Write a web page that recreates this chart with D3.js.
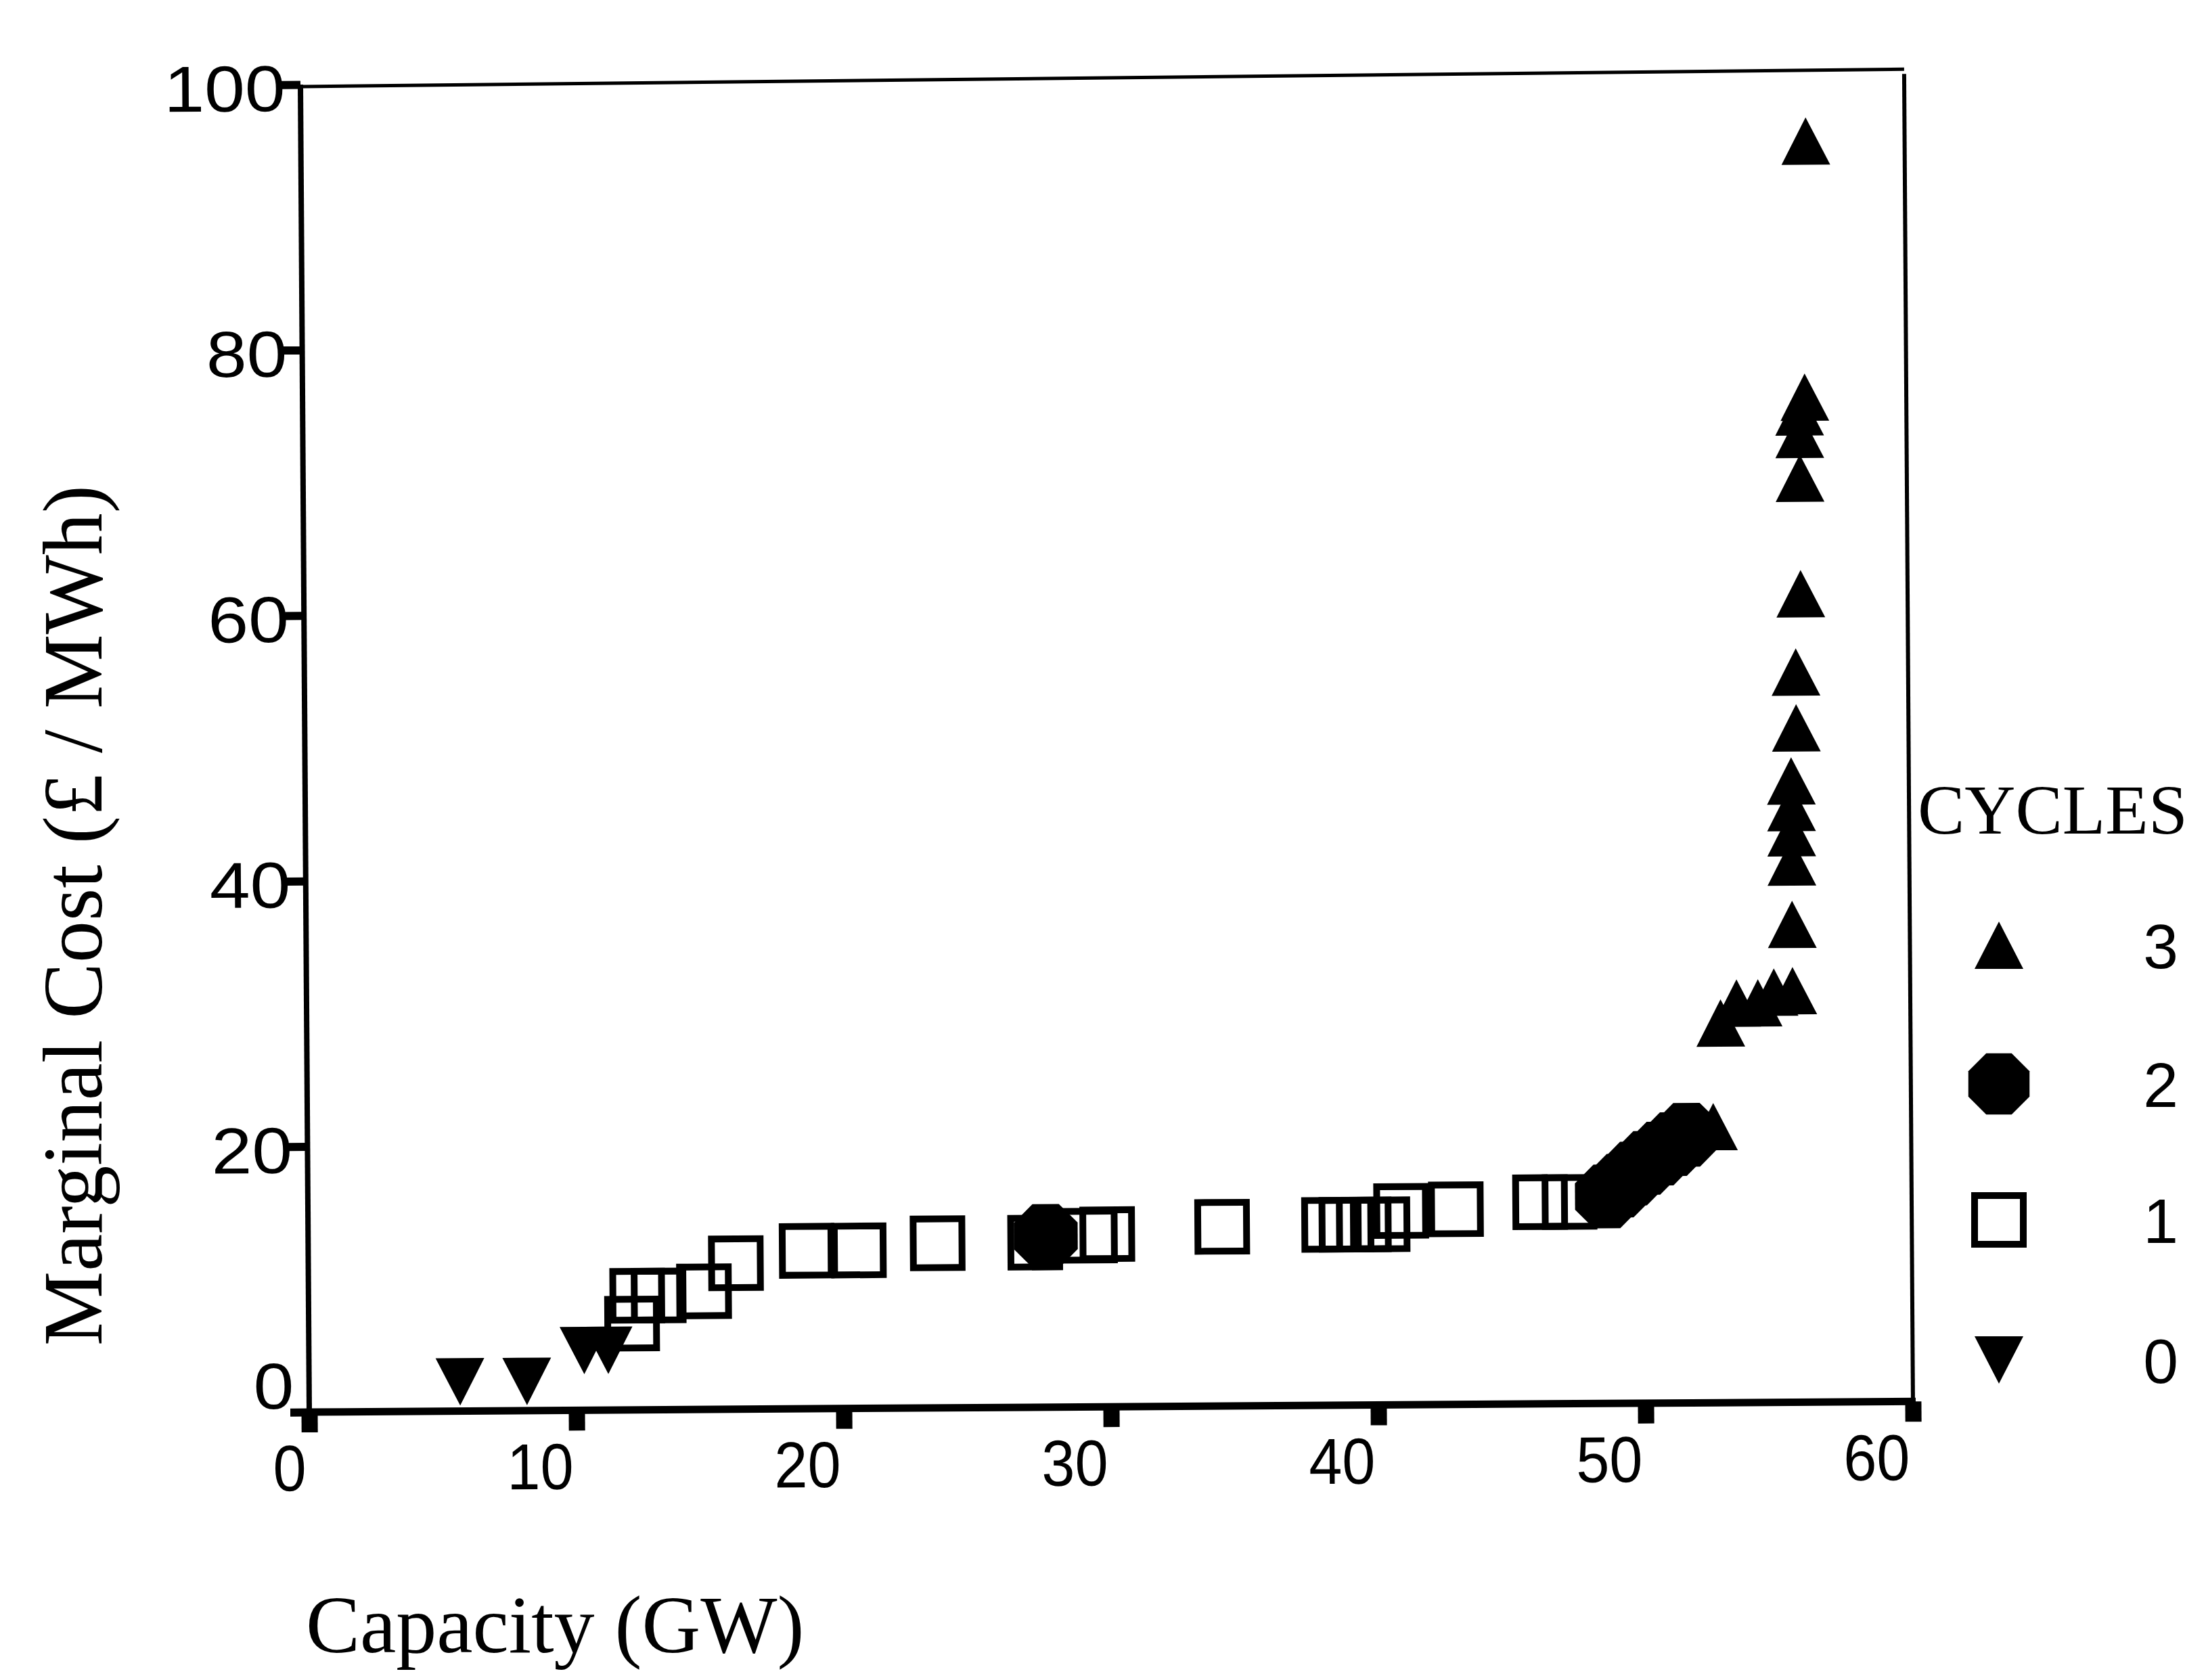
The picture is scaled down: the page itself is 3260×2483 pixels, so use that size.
<!DOCTYPE html>
<html lang="en">
<head>
<meta charset="UTF-8">
<title>Marginal Cost vs Capacity</title>
<script src="https://d3js.org/d3.v7.min.js"></script>
<style>
  body { margin: 0; background: #fff; }
  svg { display: block; }
  .sans { font-family: "Liberation Sans", Arial, sans-serif; }
  .serif { font-family: "Liberation Serif", "Times New Roman", serif; }
</style>
</head>
<body>
<svg width="3260" height="2483"></svg>
<script>
// CYCLES = 0 (filled down triangles)
const cycle0X = [5.65, 8.15, 10.3, 11.2];
const cycle0Y = [2.2, 2.2, 4.5, 4.5];

// CYCLES = 1 (open squares)
const cycle1X = [12.1, 12.3, 13.1, 14.8, 16.0, 18.65, 20.6, 23.55, 27.2, 29.25, 29.9, 34.2,
                 38.2, 38.85, 39.5, 40.2, 40.9, 42.95, 46.1, 47.2];
const cycle1Y = [6.5, 8.6, 8.6, 8.9, 11.0, 11.9, 11.9, 12.4, 12.4, 12.9, 13.0, 13.5,
                 13.6, 13.6, 13.6, 13.6, 14.6, 14.7, 15.2, 15.2];

// CYCLES = 2 (filled octagons)
const cycle2X = [27.6, 48.6, 49.1, 49.6, 50.1, 50.6, 51.1, 51.6];
const cycle2Y = [12.9, 15.6, 16.4, 17.3, 18.1, 18.8, 19.5, 20.2];

// CYCLES = 3 (filled up triangles)
const cycle3X = [52.6, 52.9, 53.5, 54.3, 54.9, 55.6, 55.6, 55.6, 55.6, 55.6, 55.6,
                 55.8, 55.8, 56.0, 56.0, 56.0, 56.0, 56.2, 56.3];
const cycle3Y = [20.8, 28.6, 30.1, 30.1, 30.9, 31.0, 36.0, 40.7, 42.9, 44.8, 46.8,
                 50.8, 55.0, 60.9, 69.6, 72.9, 74.6, 75.7, 95.0];

const xTicks = [0, 10, 20, 30, 40, 50, 60];
const yTicks = [0, 20, 40, 60, 80, 100];
const legendLabels = ["3", "2", "1", "0"];

const svg = d3.select("svg");

// plot frame (the scanned original is tilted a little)
const originX = 457, originY = 2087, plotW = 2370, plotH = 1962, tilt = -0.38;

const g = svg.append("g")
    .attr("transform", `translate(${originX},${originY - plotH}) rotate(${tilt},0,${plotH})`);

const x = d3.scaleLinear().domain([0, 60]).range([0, plotW]);
const y = d3.scaleLinear().domain([0, 100]).range([plotH, 0]);

// marker shapes, centred on the point
const upTri = "M0,-35L36,35L-36,35Z";
const downTri = "M0,35L-36,-35L36,-35Z";
const octagon = d3.range(8).map(i => {
    const a = Math.PI / 8 + i * Math.PI / 4, r = 51;
    return [r * Math.cos(a), r * Math.sin(a)];
});
const octPath = "M" + octagon.map(p => p.join(",")).join("L") + "Z";

// box
g.append("line").attr("x1", 0).attr("x2", 0).attr("y1", 0).attr("y2", plotH)
    .attr("stroke", "#000").attr("stroke-width", 8);
g.append("line").attr("x1", x(60)).attr("x2", x(60)).attr("y1", 0).attr("y2", plotH)
    .attr("stroke", "#000").attr("stroke-width", 6);
g.append("line").attr("x1", 0).attr("x2", plotW).attr("y1", 3).attr("y2", -7)
    .attr("stroke", "#000").attr("stroke-width", 5);
g.append("line").attr("x1", -4).attr("x2", plotW + 4).attr("y1", plotH).attr("y2", plotH)
    .attr("stroke", "#000").attr("stroke-width", 11);

// axes
const xAxis = g.append("g")
    .attr("transform", `translate(0,${plotH})`)
    .call(d3.axisBottom(x).tickValues(xTicks).tickSize(30).tickPadding(18).tickFormat(d3.format("d")));
xAxis.select(".domain").remove();
xAxis.selectAll(".tick line").attr("stroke", "#000").attr("stroke-width", 24);
xAxis.selectAll(".tick text")
    .attr("class", "sans")
    .attr("font-size", 96)
    .attr("fill", "#000")
    .attr("text-anchor", "end")
    .attr("transform", "scale(0.92,1)")
    .attr("dx", -6);

const yAxis = g.append("g")
    .call(d3.axisLeft(y).tickValues(yTicks).tickSize(28).tickPadding(-6).tickFormat(d3.format("d")));
yAxis.select(".domain").remove();
yAxis.selectAll(".tick line").attr("stroke", "#000").attr("stroke-width", 12);
yAxis.selectAll(".tick text")
    .attr("class", "sans")
    .attr("font-size", 96)
    .attr("fill", "#000")
    .attr("transform", "scale(1.12,1)")
    .attr("dx", 2)
    .attr("dy", d => d === 0 ? "-0.06em" : "0.4em");

// points
g.append("g").selectAll("rect")
    .data(cycle1X.map((d, i) => [d, cycle1Y[i]]))
    .join("rect")
    .attr("x", d => x(d[0]) - 36).attr("y", d => y(d[1]) - 36)
    .attr("width", 72).attr("height", 72)
    .attr("fill", "none").attr("stroke", "#000").attr("stroke-width", 10);

g.append("g").selectAll("path")
    .data(cycle2X.map((d, i) => [d, cycle2Y[i]]))
    .join("path")
    .attr("d", octPath)
    .attr("transform", d => `translate(${x(d[0])},${y(d[1])})`)
    .attr("fill", "#000");

g.append("g").selectAll("path")
    .data(cycle0X.map((d, i) => [d, cycle0Y[i]]))
    .join("path")
    .attr("d", downTri)
    .attr("transform", d => `translate(${x(d[0])},${y(d[1])})`)
    .attr("fill", "#000");

g.append("g").selectAll("path")
    .data(cycle3X.map((d, i) => [d, cycle3Y[i]]))
    .join("path")
    .attr("d", upTri)
    .attr("transform", d => `translate(${x(d[0])},${y(d[1])})`)
    .attr("fill", "#000");

// axis titles
svg.append("text")
    .attr("class", "serif")
    .attr("x", 452).attr("y", 2442)
    .attr("font-size", 120)
    .text("Capacity (GW)");

svg.append("text")
    .attr("class", "serif")
    .attr("transform", "translate(150,1353) rotate(-90)")
    .attr("text-anchor", "middle")
    .attr("font-size", 124)
    .text("Marginal Cost (£ / MWh)");

// legend
svg.append("text")
    .attr("class", "serif")
    .attr("x", 2834).attr("y", 1232)
    .attr("font-size", 104)
    .text("CYCLES");

const legendY = [1397, 1602, 1803, 2010];
const leg = svg.append("g").selectAll("g")
    .data(legendLabels)
    .join("g")
    .attr("transform", (d, i) => `translate(2954,${legendY[i]})`);

leg.each(function (d) {
    const s = d3.select(this);
    if (d === "3") s.append("path").attr("d", upTri).attr("fill", "#000");
    if (d === "2") s.append("path").attr("d", octPath).attr("transform", "scale(0.96)").attr("fill", "#000");
    if (d === "1") s.append("rect").attr("x", -36).attr("y", -36).attr("width", 72).attr("height", 72)
        .attr("fill", "none").attr("stroke", "#000").attr("stroke-width", 10);
    if (d === "0") s.append("path").attr("d", downTri).attr("fill", "#000");
});

leg.append("text")
    .attr("class", "sans")
    .attr("x", 239).attr("y", 34)
    .attr("text-anchor", "middle")
    .attr("font-size", 93)
    .text(d => d);
</script>
</body>
</html>
